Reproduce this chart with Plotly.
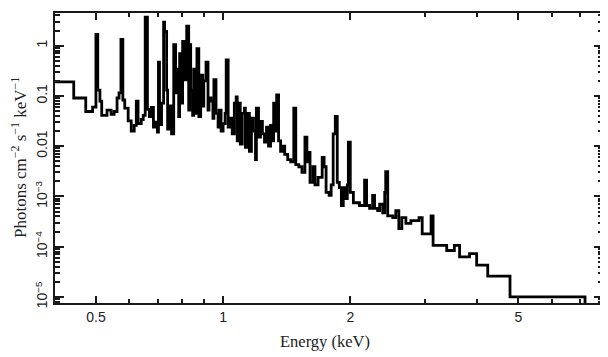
import plotly.graph_objects as go
import numpy as np

# Left bin edges (keV) and fluxes (photons cm^-2 s^-1 keV^-1)
energy_left = [
    0.400, 0.443, 0.473, 0.491, 0.500, 0.505, 0.511, 0.516, 0.531, 0.543,
    0.552, 0.561, 0.567, 0.573, 0.579, 0.585, 0.596, 0.606, 0.616, 0.623,
    0.629, 0.640, 0.647, 0.654, 0.662, 0.669, 0.676, 0.684, 0.691, 0.699,
    0.703, 0.707, 0.715, 0.723, 0.727, 0.735, 0.739, 0.747, 0.755, 0.764,
    0.772, 0.776, 0.785, 0.789, 0.798, 0.802, 0.811, 0.820,
    0.829, 0.834, 0.838, 0.847, 0.852, 0.856, 0.867, 0.876, 0.885, 0.895,
    0.900, 0.911, 0.921, 0.926, 0.936, 0.946, 0.951, 0.962, 0.973, 0.978,
    0.989, 1.000, 1.011, 1.017, 1.028, 1.039, 1.051, 1.063, 1.074, 1.080,
    1.092, 1.098, 1.110, 1.123, 1.129, 1.141, 1.154, 1.167, 1.180, 1.193,
    1.199, 1.213, 1.226, 1.239, 1.253, 1.267, 1.281, 1.295, 1.303, 1.317,
    1.331, 1.339, 1.353, 1.368, 1.384, 1.399, 1.422, 1.446, 1.470, 1.486,
    1.511, 1.537, 1.562, 1.579, 1.588, 1.606, 1.632, 1.650, 1.678, 1.716,
    1.734, 1.753, 1.782, 1.802, 1.822, 1.843, 1.863, 1.884, 1.905, 1.925,
    1.947, 1.968, 1.979, 2.000, 2.034, 2.103, 2.162, 2.186, 2.222, 2.259,
    2.283, 2.322, 2.347, 2.387, 2.413, 2.426, 2.453, 2.521, 2.563, 2.606,
    2.649, 2.708, 2.783, 2.866, 2.909, 2.960, 3.107, 3.141, 3.383, 3.527,
    3.629, 3.831, 3.983, 4.231, 4.777,
]
energy_last_edge = 7.19

flux = [
    0.19, 0.091, 0.049, 0.060, 1.67, 0.13, 0.079, 0.041, 0.052, 0.043,
    0.049, 0.091, 0.115, 1.33, 0.083, 0.057, 0.032, 0.020, 0.026, 0.079,
    0.028, 0.034, 0.041, 3.7, 0.054, 0.039, 0.059, 0.024, 0.030, 0.019,
    0.47, 0.027, 0.072, 2.95, 1.93, 0.13, 0.022, 0.063, 0.0176, 1.05,
    0.115, 0.34, 0.039, 0.69, 0.072, 1.21, 0.21, 2.44,
    0.052, 1.05, 0.13, 0.041, 0.34, 0.045, 0.87, 0.039, 0.26, 0.063,
    0.20, 0.47, 0.052, 0.091, 0.079, 0.036, 0.21, 0.045, 0.024, 0.052,
    0.020, 0.028, 0.045, 0.52, 0.024, 0.036, 0.0176, 0.072, 0.096, 0.0127,
    0.072, 0.011, 0.045, 0.057, 0.0095, 0.045, 0.0079, 0.036, 0.020, 0.0054,
    0.057, 0.0152, 0.031, 0.0176, 0.012, 0.024, 0.010, 0.026, 0.0127, 0.072,
    0.020, 0.105, 0.0127, 0.0079, 0.010, 0.0069, 0.0054, 0.0049, 0.057, 0.0043,
    0.0039, 0.0030, 0.0152, 0.0049, 0.0075, 0.0019, 0.0039, 0.0017, 0.0024, 0.0060,
    0.0039, 0.0012, 0.00105, 0.0017, 0.0176, 0.039, 0.0019, 0.0015, 0.00066, 0.0015,
    0.00091, 0.0017, 0.012, 0.0012, 0.00075, 0.00066, 0.0021, 0.00066, 0.00058, 0.00105,
    0.00058, 0.00052, 0.00070, 0.00047, 0.0012, 0.0031, 0.00041, 0.00038, 0.00052, 0.00023,
    0.00038, 0.00029, 0.00033, 0.00033, 0.00038, 0.00018, 0.00041, 0.000106, 0.000084, 0.000106,
    0.000063, 0.000073, 0.000043, 0.000026, 0.0000100,
]

x_ticks = [0.5, 1, 2, 5]
x_tick_text = ["0.5", "1", "2", "5"]
x_minor = [0.6, 0.7, 0.8, 0.9, 3, 4, 6, 7]
y_ticks = [1e-5, 1e-4, 1e-3, 0.01, 0.1, 1]
y_tick_text = ["10<sup>−5</sup>", "10<sup>−4</sup>", "10<sup>−3</sup>", "0.01", "0.1", "1"]
y_minor = [m * 10.0 ** d for d in range(-6, 1) for m in range(2, 10)]

n = min(len(energy_left), len(flux))
xs = list(energy_left[:n]) + [energy_last_edge, energy_last_edge]
ys = list(flux[:n]) + [flux[n - 1], 1e-7]

AX = "#1a1a1a"
fig = go.Figure()
fig.add_trace(go.Scatter(x=xs, y=ys, mode="lines",
                         line=dict(color="black", width=2.8, shape="hv"),
                         hoverinfo="skip"))

# The page body adds an 8px offset, so the figure is 8px smaller on each axis
fig.update_layout(
    width=600, height=349,
    margin=dict(l=47, r=3, t=4, b=54),
    plot_bgcolor="white", paper_bgcolor="white",
    showlegend=False,
    xaxis=dict(
        type="log", range=[np.log10(0.4), np.log10(7.93)],
        tickmode="array", tickvals=x_ticks, ticktext=x_tick_text,
        ticks="inside", ticklen=7, tickwidth=1.5, tickcolor=AX,
        showline=True, linewidth=2, linecolor=AX, mirror="ticks",
        showgrid=False, zeroline=False,
        minor=dict(tickmode="array", tickvals=x_minor, ticks="inside", ticklen=4,
                   tickwidth=1.5, tickcolor=AX, showgrid=False),
        tickfont=dict(family="Liberation Sans, Arial, sans-serif", size=14, color="#222"),
    ),
    yaxis=dict(
        type="log", range=[-5.12, 0.65],
        tickmode="array", tickvals=y_ticks, ticktext=y_tick_text,
        tickangle=-90,
        ticks="inside", ticklen=9, tickwidth=1.5, tickcolor=AX,
        showline=True, linewidth=2, linecolor=AX, mirror="ticks",
        showgrid=False, zeroline=False,
        minor=dict(tickmode="array", tickvals=y_minor, ticks="inside", ticklen=5,
                   tickwidth=1.5, tickcolor=AX, showgrid=False),
        tickfont=dict(family="Liberation Sans, Arial, sans-serif", size=14, color="#222"),
    ),
    annotations=[
        dict(text="Energy (keV)", xref="paper", yref="paper", x=0.5, y=0,
             xshift=-4, yshift=-38, xanchor="center", yanchor="middle",
             showarrow=False,
             font=dict(family="Liberation Serif, Times New Roman, serif", size=16.5, color="#222")),
        dict(text="Photons cm<sup>−2</sup> s<sup>−1</sup> keV<sup>−1</sup>",
             xref="paper", yref="paper", x=0, y=0.5, xshift=-36,
             xanchor="center", yanchor="middle", textangle=-90, showarrow=False,
             font=dict(family="Liberation Serif, Times New Roman, serif", size=17, color="#222")),
    ],
)

fig.write_html("out.html")
